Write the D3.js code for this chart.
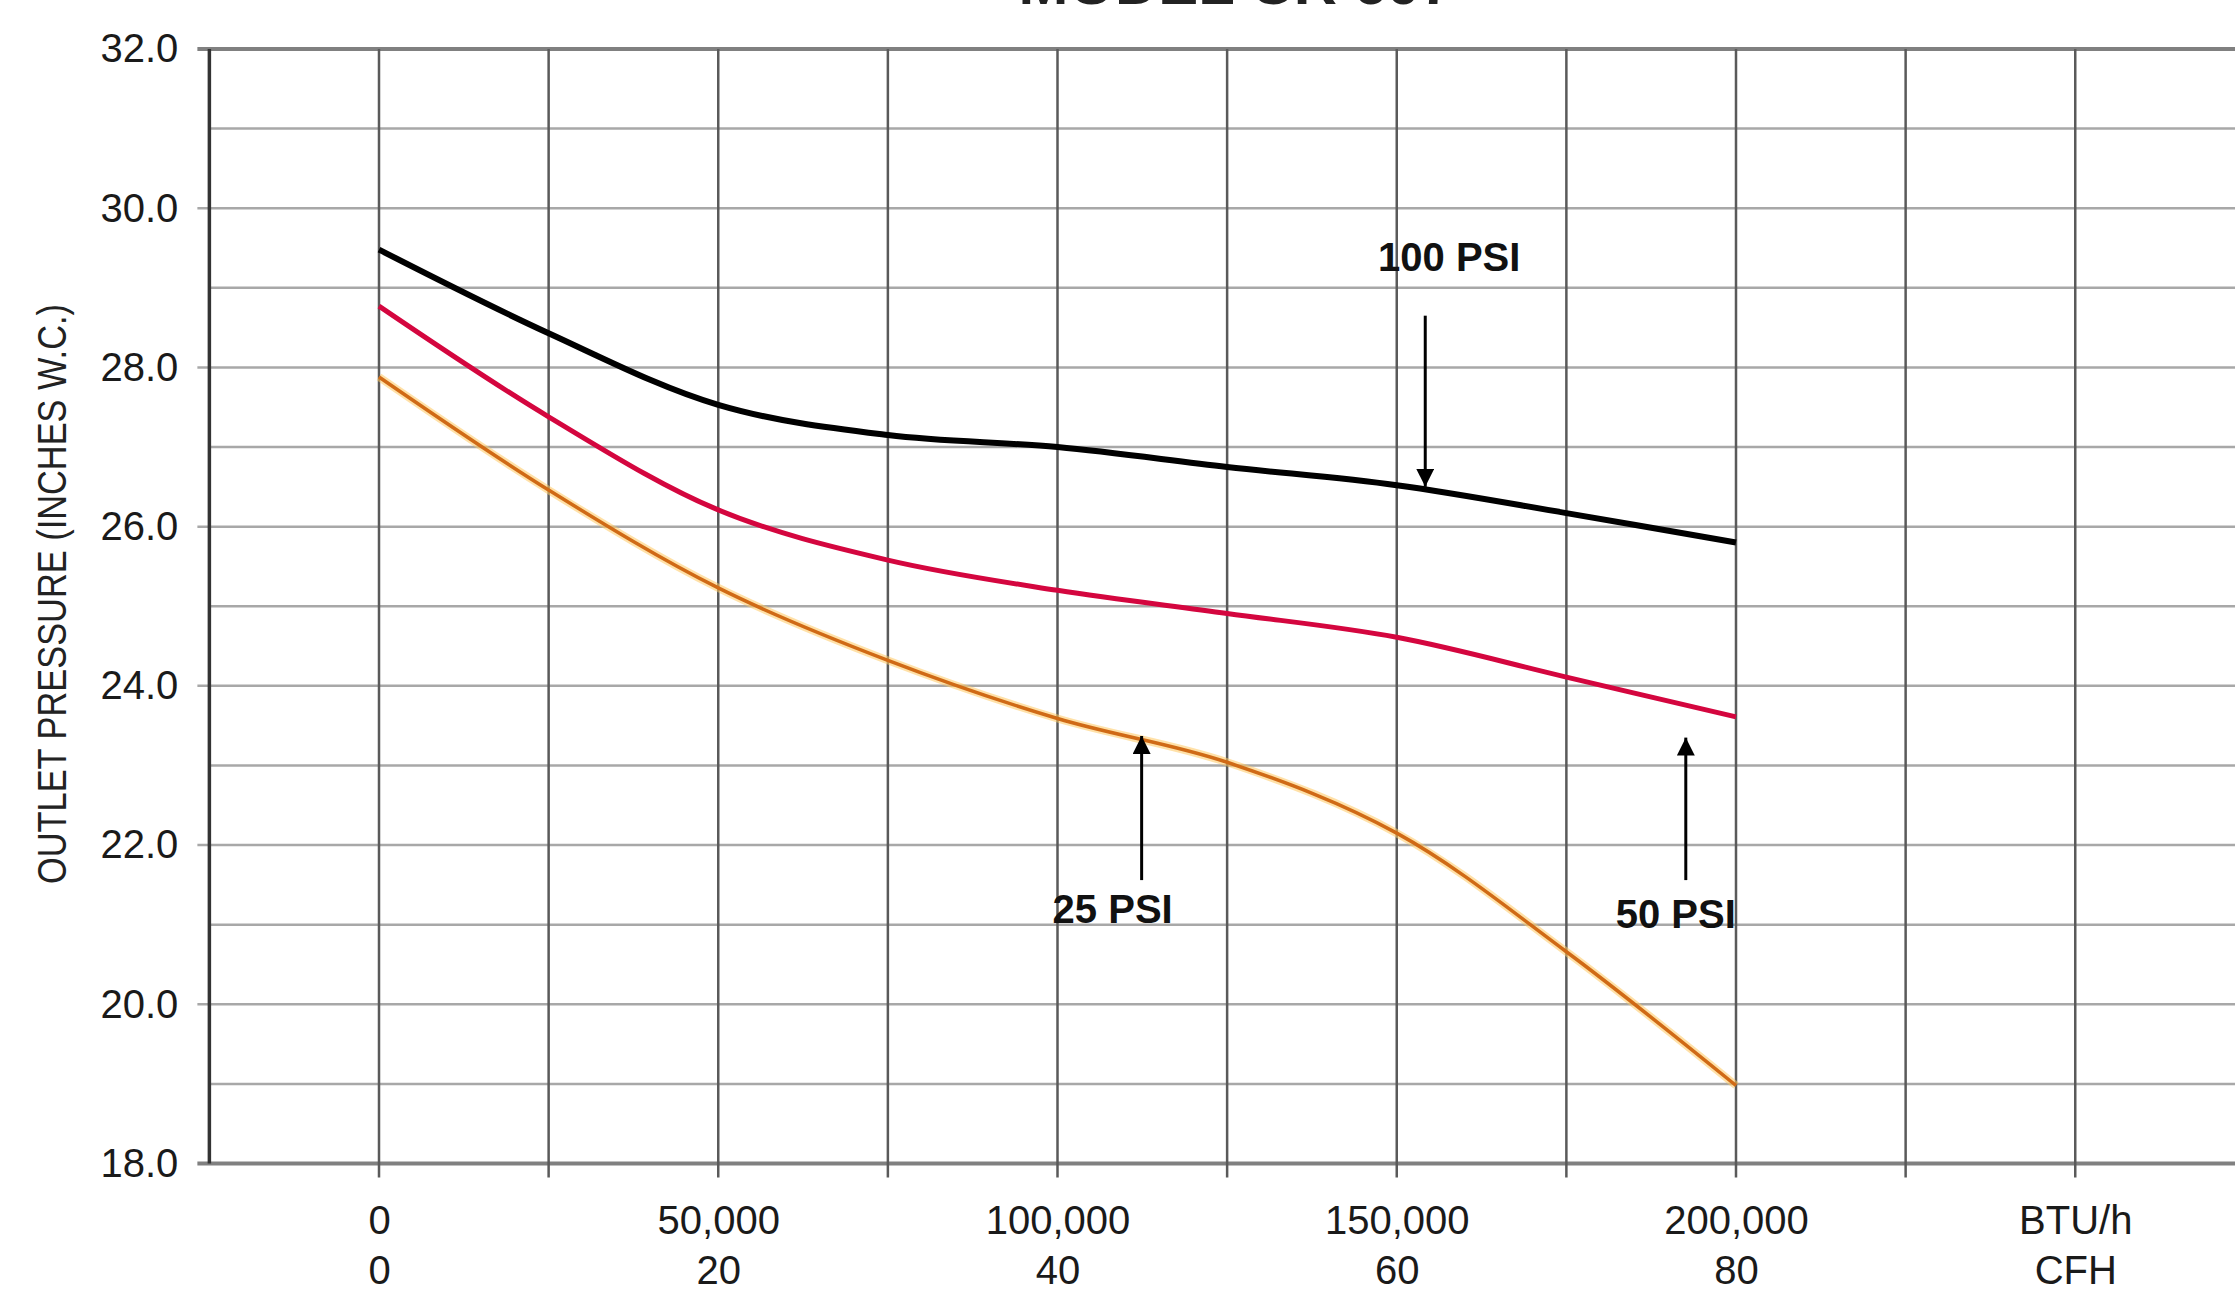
<!DOCTYPE html>
<html>
<head>
<meta charset="utf-8">
<script src="https://cdn.jsdelivr.net/npm/d3@7"></script>
<style>
  html, body { margin: 0; padding: 0; background: #ffffff; }
  svg { display: block; }
  text { font-family: "Liberation Sans", Arial, sans-serif; }
</style>
</head>
<body>
<svg id="chart" width="2235" height="1305"></svg>
<script>
// ---- data ----
const titleText = "MODEL CR 607";
const yTitle = "OUTLET PRESSURE (INCHES W.C.)";
const btuValues = [0, 25000, 50000, 75000, 100000, 125000, 150000, 175000, 200000];
const psi100 = [29.48, 28.43, 27.53, 27.15, 27.00, 26.75, 26.52, 26.17, 25.80];
const psi50  = [28.77, 27.38, 26.21, 25.58, 25.20, 24.91, 24.61, 24.11, 23.61];
const psi25  = [27.88, 26.46, 25.23, 24.32, 23.59, 23.04, 22.15, 20.66, 18.98];
const yTicks = [18, 20, 22, 24, 26, 28, 30, 32];
const xTickValues = [0, 50000, 100000, 150000, 200000, 250000];
const btuLabels = ["0", "50,000", "100,000", "150,000", "200,000", "BTU/h"];
const cfhLabels = ["0", "20", "40", "60", "80", "CFH"];
const seriesNames = ["100 PSI", "50 PSI", "25 PSI"];
// annotation anchor points (x in BTU/h, y in inches W.C.)
const annoX = [154200, 112400, 192600];
const annoTipY = [26.5, 23.37, 23.35];
const annoTailY = [28.65, 21.56, 21.56];
const annoLabelY = [29.39, 21.20, 21.14];

// ---- layout ----
const svg = d3.select("#chart");
const W = 2235, H = 1305;
const x = d3.scaleLinear().domain([0, 200000]).range([379, 1736]);
const y = d3.scaleLinear().domain([18, 32]).range([1163.5, 49]);
const xLeft = x(-25000);

// title (clipped at the top as in the reference)
svg.append("text")
  .attr("x", 1236).attr("y", 4)
  .attr("text-anchor", "middle")
  .attr("font-size", 56).attr("font-weight", "bold")
  .attr("textLength", 435).attr("lengthAdjust", "spacingAndGlyphs")
  .attr("fill", "#222")
  .text(titleText);

// horizontal gridlines every 1.0
const hVals = d3.range(18, 32.001, 1);
svg.append("g").selectAll("line").data(hVals).join("line")
  .attr("x1", d => (d % 2 === 0 ? xLeft - 12 : xLeft))
  .attr("x2", W)
  .attr("y1", d => y(d)).attr("y2", d => y(d))
  .attr("stroke", d => (d === 32 || d === 18) ? "#808080" : "#a8a8a8")
  .attr("stroke-width", d => (d === 32 || d === 18) ? 4 : 2.5);

// vertical gridlines every 25,000
const vVals = d3.range(-25000, 275001, 25000);
svg.append("g").selectAll("line").data(vVals).join("line")
  .attr("x1", d => x(d)).attr("x2", d => x(d))
  .attr("y1", y(32))
  .attr("y2", d => d === -25000 ? y(18) : y(18) + 14)
  .attr("stroke", d => d === -25000 ? "#333" : "#5a5a5a")
  .attr("stroke-width", d => d === -25000 ? 3.5 : 2.5);

// y axis labels
const yAxis = d3.axisLeft(y).tickValues(yTicks).tickFormat(d3.format(".1f"))
  .tickSize(0).tickPadding(31);
const gy = svg.append("g").attr("transform", `translate(${xLeft},0)`).call(yAxis);
gy.select(".domain").remove();
gy.selectAll("text").attr("font-size", 40).attr("fill", "#1a1a1a")
  .attr("font-family", "Liberation Sans, Arial, sans-serif");

// x axis labels (two rows)
const xAxis1 = d3.axisBottom(x).tickValues(xTickValues)
  .tickFormat((d, i) => btuLabels[i]).tickSize(0).tickPadding(0);
const gx1 = svg.append("g").attr("transform", `translate(0,1206)`).call(xAxis1);
gx1.select(".domain").remove();
const xAxis2 = d3.axisBottom(x).tickValues(xTickValues)
  .tickFormat((d, i) => cfhLabels[i]).tickSize(0).tickPadding(0);
const gx2 = svg.append("g").attr("transform", `translate(0,1256)`).call(xAxis2);
gx2.select(".domain").remove();
svg.selectAll(".tick text").attr("font-size", 40).attr("fill", "#1a1a1a")
  .attr("font-family", "Liberation Sans, Arial, sans-serif");

// y axis title
svg.append("text")
  .attr("transform", `translate(66,594) rotate(-90)`)
  .attr("text-anchor", "middle")
  .attr("font-size", 40)
  .attr("textLength", 580).attr("lengthAdjust", "spacingAndGlyphs")
  .attr("fill", "#222")
  .text(yTitle);

// curves
const line = d3.line()
  .x((d, i) => x(btuValues[i]))
  .y(d => y(d))
  .curve(d3.curveCatmullRom.alpha(0.5));

const curves = svg.append("g").attr("fill", "none").attr("stroke-linecap", "butt");
// 25 PSI (orange with a yellowish halo)
curves.append("path").attr("d", line(psi25))
  .attr("stroke", "#ffc860").attr("stroke-width", 8).attr("stroke-opacity", 0.55);
curves.append("path").attr("d", line(psi25))
  .attr("stroke", "#d06a16").attr("stroke-width", 3.5);
// 50 PSI (crimson)
curves.append("path").attr("d", line(psi50))
  .attr("stroke", "#d4063f").attr("stroke-width", 5);
// 100 PSI (black)
curves.append("path").attr("d", line(psi100))
  .attr("stroke", "#000").attr("stroke-width", 6);

// annotations: arrows + labels
svg.append("defs").append("marker")
  .attr("id", "arrow").attr("viewBox", "0 0 10 10")
  .attr("refX", 10).attr("refY", 5)
  .attr("markerWidth", 6).attr("markerHeight", 6)
  .attr("markerUnits", "strokeWidth")
  .attr("orient", "auto")
  .append("path").attr("d", "M0,0 L10,5 L0,10 z").attr("fill", "#000");

const annoGroup = svg.append("g");
const labelDx = [24, -29, -10];
const order = [0, 2, 1]; // seriesNames index for each annotation
annoX.forEach((ax, i) => {
  const px = x(ax);
  annoGroup.append("line")
    .attr("x1", px).attr("x2", px)
    .attr("y1", y(annoTailY[i])).attr("y2", y(annoTipY[i]))
    .attr("stroke", "#000").attr("stroke-width", 3)
    .attr("marker-end", "url(#arrow)");
  annoGroup.append("text")
    .attr("x", px + labelDx[i]).attr("y", y(annoLabelY[i]))
    .attr("text-anchor", "middle").attr("dominant-baseline", "central")
    .attr("font-size", 40).attr("font-weight", "bold").attr("fill", "#111")
    .text(seriesNames[order[i]]);
});
</script>
</body>
</html>
